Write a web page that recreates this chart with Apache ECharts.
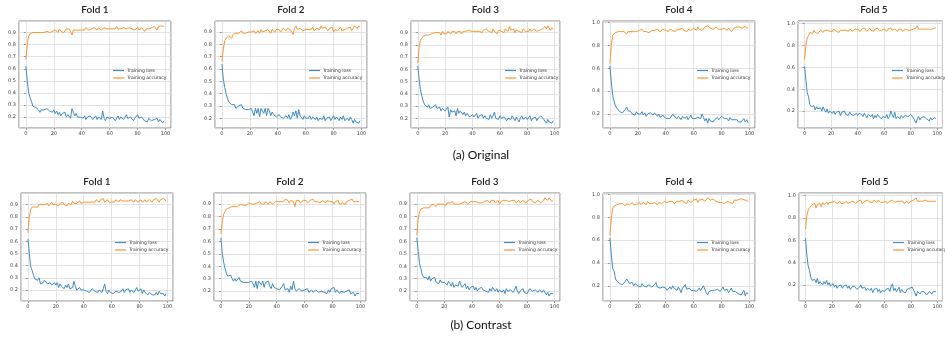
<!DOCTYPE html>
<html>
<head>
<meta charset="utf-8">
<script src="https://cdn.jsdelivr.net/npm/echarts@6/dist/echarts.min.js"></script>
<style>
  html, body { margin: 0; padding: 0; background: #fff; }
  #chart { width: 945px; height: 341px; }
</style>
</head>
<body>
<div id="chart"></div>
<script>
const folds = ['Fold 1', 'Fold 2', 'Fold 3', 'Fold 4', 'Fold 5'];
const captions = ['(a) Original', '(b) Contrast'];
const xTicks = [0, 20, 40, 60, 80, 100];

// (a) Original
const origLoss1 = [.62,.50,.40,.36,.33,.29,.28,.28,.29,.26, .24,.26,.27,.26,.25,.27,.26,.25,.26,.24, .26,.23,.25,.22,.24,.21,.23,.22,.24,.20, .22,.21,.19,.27,.24,.21,.23,.20,.21,.20, .20,.19,.21,.18,.20,.19,.21,.20,.18,.19, .21,.18,.20,.19,.18,.25,.19,.17,.20,.21, .19,.18,.20,.19,.17,.19,.21,.18,.20,.19, .18,.20,.22,.19,.18,.20,.19,.17,.19,.20, .22,.19,.18,.20,.19,.17,.18,.16,.19,.18, .17,.16,.18,.17,.19,.16,.18,.19,.15,.17];
const origAcc1 = [.68,.80,.87,.89,.89,.90,.89,.90,.89,.90, .91,.90,.91,.90,.89,.91,.90,.90,.91,.91, .90,.92,.91,.90,.93,.91,.92,.90,.91,.93, .92,.93,.91,.88,.92,.93,.92,.91,.92,.93, .92,.93,.92,.94,.93,.92,.93,.93,.92,.94, .93,.92,.94,.93,.92,.93,.94,.95,.93,.94, .93,.92,.93,.94,.93,.95,.93,.94,.93,.92, .94,.93,.93,.92,.94,.93,.93,.94,.92,.93, .94,.92,.93,.94,.93,.91,.93,.94,.93,.92, .94,.93,.95,.94,.92,.95,.94,.955,.94,.95];
const origLoss2 = [.64,.52,.45,.40,.36,.33,.32,.31,.30,.31, .28,.27,.30,.29,.31,.28,.28,.27,.28,.27, .26,.28,.27,.22,.28,.24,.28,.21,.28,.26, .24,.28,.22,.28,.26,.22,.25,.23,.24,.21, .22,.23,.21,.22,.20,.21,.22,.20,.23,.19, .21,.25,.22,.26,.20,.27,.22,.21,.19,.22, .20,.21,.20,.22,.19,.21,.20,.19,.21,.18, .20,.21,.19,.22,.18,.20,.19,.21,.18,.20, .22,.19,.21,.20,.18,.21,.19,.22,.18,.19, .20,.18,.21,.19,.16,.19,.17,.18,.16,.18];
const origAcc2 = [.66,.76,.83,.85,.84,.87,.86,.85,.88,.89, .89,.88,.89,.90,.91,.89,.90,.89,.89,.90, .89,.90,.89,.91,.89,.90,.91,.89,.92,.90, .89,.91,.90,.92,.91,.89,.92,.91,.90,.92, .91,.92,.90,.91,.93,.92,.91,.93,.94,.92, .90,.88,.93,.95,.92,.91,.93,.92,.91,.92, .92,.93,.92,.93,.92,.94,.91,.92,.93,.94, .92,.95,.93,.92,.94,.93,.91,.93,.92,.94, .90,.92,.93,.91,.92,.94,.91,.90,.92,.91, .93,.92,.94,.91,.93,.95,.94,.93,.95,.94];
const origLoss3 = [.63,.52,.43,.38,.34,.31,.30,.29,.31,.28, .27,.29,.30,.31,.28,.27,.29,.26,.28,.27, .26,.27,.29,.21,.27,.25,.24,.26,.22,.28, .24,.26,.25,.23,.25,.22,.24,.23,.21,.22, .23,.21,.22,.24,.20,.22,.21,.23,.20,.22, .20,.21,.19,.23,.20,.22,.25,.20,.21,.19, .22,.20,.19,.21,.22,.18,.20,.21,.19,.22, .20,.18,.21,.19,.17,.20,.22,.19,.18,.21, .19,.20,.22,.18,.20,.19,.21,.18,.20,.19, .22,.21,.19,.18,.16,.19,.17,.18,.16,.18];
const origAcc3 = [.65,.78,.84,.85,.87,.86,.88,.89,.88,.89, .89,.88,.90,.89,.90,.89,.90,.88,.91,.89, .90,.89,.91,.90,.89,.91,.90,.91,.89,.91, .90,.91,.89,.91,.92,.91,.90,.92,.91,.91, .91,.91,.90,.91,.92,.91,.91,.90,.92,.91, .93,.92,.91,.92,.90,.93,.91,.92,.89,.92, .93,.91,.92,.90,.93,.92,.91,.95,.92,.91, .93,.90,.92,.93,.91,.92,.90,.93,.92,.91, .92,.91,.93,.91,.92,.93,.92,.91,.90,.92, .91,.93,.92,.95,.93,.955,.94,.92,.94,.93];
const origLoss4 = [.62,.48,.36,.31,.27,.25,.24,.22,.23,.21, .22,.24,.26,.23,.24,.22,.20,.21,.19,.22, .20,.21,.20,.22,.19,.21,.18,.20,.19,.21, .20,.19,.21,.22,.18,.20,.17,.18,.19,.17, .18,.16,.17,.16,.17,.20,.18,.19,.16,.18, .17,.15,.18,.19,.16,.18,.15,.17,.19,.16, .17,.16,.15,.17,.18,.16,.20,.17,.14,.16, .12,.16,.14,.15,.13,.15,.16,.17,.15,.16, .18,.17,.16,.15,.16,.14,.17,.15,.16,.15, .14,.15,.13,.14,.13,.12,.16,.13,.15,.12];
const origAcc4 = [.64,.80,.89,.90,.91,.90,.92,.91,.92,.91, .92,.91,.90,.92,.93,.92,.91,.92,.93,.92, .92,.93,.92,.94,.92,.93,.92,.93,.91,.92, .93,.92,.93,.92,.94,.93,.92,.93,.94,.95, .93,.94,.92,.94,.95,.93,.94,.92,.94,.93, .94,.93,.95,.93,.94,.92,.94,.95,.93,.94, .95,.94,.93,.96,.94,.95,.93,.94,.96,.95, .97,.96,.95,.96,.94,.95,.96,.95,.94,.93, .94,.93,.95,.94,.93,.95,.94,.92,.93,.95, .94,.96,.95,.96,.97,.95,.96,.97,.95,.95];
const origLoss5 = [.61,.48,.37,.33,.26,.24,.23,.25,.21,.24, .22,.21,.23,.20,.24,.21,.19,.22,.18,.20, .19,.18,.20,.17,.19,.18,.20,.16,.19,.18, .20,.17,.18,.16,.19,.17,.18,.16,.17,.18, .16,.18,.19,.17,.15,.18,.16,.14,.17,.16, .15,.17,.13,.16,.14,.17,.15,.16,.13,.15, .16,.14,.17,.13,.15,.20,.17,.14,.19,.13, .15,.14,.13,.16,.14,.15,.16,.17,.15,.16, .17,.16,.14,.15,.09,.13,.15,.12,.14,.13, .15,.14,.13,.12,.11,.14,.12,.13,.14,.13];
const origAcc5 = [.67,.80,.87,.89,.92,.93,.91,.94,.92,.93, .91,.90,.94,.93,.92,.94,.93,.94,.95,.93, .94,.93,.95,.94,.93,.94,.92,.94,.93,.94, .93,.94,.94,.93,.95,.94,.93,.94,.95,.94, .95,.94,.93,.95,.94,.96,.95,.93,.94,.96, .94,.95,.93,.95,.94,.96,.94,.95,.94,.93, .95,.94,.93,.95,.94,.96,.94,.93,.95,.94, .93,.95,.94,.95,.93,.94,.95,.96,.94,.95, .94,.93,.95,.94,.96,.98,.95,.96,.95,.94, .95,.96,.95,.96,.95,.96,.95,.96,.96,.96];

// (b) Contrast
const contLoss1 = [.62,.50,.39,.36,.32,.29,.28,.28,.30,.25, .24,.26,.28,.27,.25,.26,.26,.24,.25,.26, .24,.26,.22,.25,.23,.24,.21,.24,.22,.25, .21,.20,.22,.27,.23,.20,.21,.22,.20,.19, .20,.21,.19,.20,.18,.19,.21,.20,.19,.20, .18,.20,.19,.18,.21,.25,.19,.17,.20,.18, .19,.17,.18,.19,.20,.18,.17,.19,.21,.18, .20,.19,.21,.18,.20,.19,.18,.20,.22,.19, .19,.21,.17,.20,.18,.17,.16,.18,.17,.16, .17,.16,.18,.16,.19,.17,.18,.17,.15,.17];
const contAcc1 = [.67,.80,.86,.88,.89,.88,.89,.88,.90,.89, .90,.89,.90,.90,.91,.89,.90,.92,.90,.91, .90,.91,.89,.91,.90,.92,.90,.91,.89,.91, .92,.90,.93,.91,.92,.91,.92,.93,.91,.92, .92,.93,.92,.91,.92,.93,.92,.93,.92,.94, .93,.92,.94,.93,.95,.92,.93,.94,.92,.91, .92,.93,.92,.94,.93,.92,.94,.95,.93,.92, .93,.94,.93,.92,.94,.93,.92,.94,.93,.92, .93,.94,.92,.93,.94,.92,.93,.94,.93,.92, .94,.93,.95,.94,.92,.94,.93,.95,.955,.93];
const contLoss2 = [.63,.50,.43,.38,.34,.32,.31,.33,.30,.28, .30,.28,.29,.31,.28,.28,.27,.28,.27,.28, .27,.26,.28,.26,.23,.28,.22,.28,.27,.25, .28,.23,.27,.26,.28,.24,.22,.26,.23,.24, .22,.23,.21,.22,.24,.26,.21,.20,.22,.19, .24,.21,.28,.22,.20,.21,.22,.21,.20,.19, .21,.20,.22,.19,.20,.21,.19,.18,.21,.20, .19,.18,.20,.21,.19,.20,.18,.21,.19,.22, .21,.23,.19,.21,.20,.18,.20,.21,.19,.18, .20,.19,.21,.18,.17,.19,.16,.18,.17,.18];
const contAcc2 = [.66,.76,.82,.84,.86,.85,.87,.86,.88,.87, .88,.89,.88,.89,.90,.89,.89,.90,.89,.89, .91,.90,.90,.91,.90,.89,.91,.90,.92,.90, .91,.90,.92,.91,.90,.92,.91,.90,.91,.92, .91,.92,.91,.92,.93,.92,.94,.95,.93,.91, .93,.94,.92,.88,.93,.92,.93,.91,.92,.93, .92,.93,.91,.92,.93,.92,.94,.92,.93,.92, .93,.91,.92,.93,.92,.91,.93,.94,.92,.91, .92,.90,.92,.91,.93,.90,.89,.91,.92,.90, .92,.91,.93,.92,.94,.92,.93,.92,.93,.92];
const contLoss3 = [.63,.52,.42,.38,.33,.31,.30,.31,.29,.32, .28,.30,.29,.31,.27,.28,.26,.29,.27,.26, .27,.26,.25,.28,.26,.24,.27,.23,.25,.26, .24,.28,.25,.23,.24,.26,.22,.24,.21,.23, .22,.24,.21,.23,.20,.22,.21,.23,.21,.22, .20,.21,.19,.22,.20,.23,.24,.20,.22,.19, .21,.20,.19,.21,.18,.22,.20,.19,.21,.20, .19,.21,.24,.20,.18,.20,.19,.22,.19,.20, .18,.20,.22,.23,.20,.19,.21,.20,.19,.21, .20,.19,.21,.19,.17,.19,.16,.18,.17,.18];
const contAcc3 = [.65,.78,.84,.86,.85,.87,.86,.87,.88,.87, .89,.88,.90,.89,.88,.90,.89,.90,.89,.90, .90,.89,.91,.90,.91,.90,.92,.90,.91,.90, .91,.90,.89,.91,.90,.92,.91,.90,.91,.92, .91,.92,.91,.92,.91,.91,.92,.91,.92,.92, .92,.93,.92,.91,.93,.92,.93,.91,.92,.93, .90,.92,.91,.93,.92,.93,.94,.92,.91,.93, .92,.93,.91,.92,.93,.91,.92,.93,.92,.91, .92,.93,.92,.94,.92,.93,.91,.92,.93,.92, .91,.92,.93,.95,.94,.93,.95,.94,.92,.93];
const contLoss4 = [.62,.47,.35,.33,.26,.24,.25,.22,.23,.21, .22,.24,.26,.25,.22,.21,.23,.20,.22,.21, .20,.21,.19,.22,.20,.21,.19,.20,.21,.20, .19,.20,.21,.23,.19,.20,.18,.17,.19,.18, .18,.16,.17,.19,.17,.20,.18,.17,.16,.19, .17,.14,.18,.19,.21,.17,.16,.18,.16,.17, .16,.17,.15,.16,.18,.16,.15,.20,.17,.14, .12,.15,.14,.16,.15,.16,.15,.17,.16,.15, .17,.19,.16,.15,.17,.14,.16,.18,.15,.16, .15,.14,.13,.14,.12,.13,.16,.11,.14,.13];
const contAcc4 = [.64,.79,.88,.90,.89,.91,.90,.92,.91,.92, .91,.90,.92,.93,.91,.92,.93,.91,.92,.91, .92,.93,.91,.92,.93,.92,.91,.94,.92,.93, .92,.91,.93,.92,.91,.93,.94,.92,.93,.94, .95,.93,.92,.94,.93,.94,.92,.93,.94,.95, .94,.93,.95,.93,.94,.92,.95,.94,.93,.94, .95,.94,.96,.93,.95,.94,.96,.97,.94,.95, .97,.96,.95,.94,.96,.95,.94,.95,.93,.94, .93,.94,.92,.93,.94,.95,.93,.94,.92,.95, .94,.95,.94,.96,.95,.96,.97,.95,.94,.94];
const contLoss5 = [.62,.47,.37,.33,.27,.24,.23,.25,.22,.26, .21,.23,.24,.20,.23,.21,.24,.20,.22,.19, .20,.21,.18,.20,.17,.19,.18,.20,.17,.19, .18,.20,.17,.19,.16,.18,.17,.19,.18,.16, .17,.18,.20,.17,.16,.18,.15,.17,.16,.15, .17,.13,.16,.15,.17,.14,.16,.13,.15,.16, .14,.16,.15,.17,.14,.19,.21,.15,.17,.14, .15,.18,.13,.16,.14,.15,.13,.16,.15,.17, .16,.18,.17,.13,.10,.14,.15,.12,.14,.15, .14,.13,.11,.12,.14,.13,.12,.14,.13,.14];
const contAcc5 = [.70,.82,.87,.89,.90,.92,.91,.93,.89,.92, .91,.93,.90,.94,.92,.93,.94,.92,.94,.93, .94,.93,.95,.94,.93,.94,.95,.93,.94,.93, .94,.95,.93,.94,.94,.93,.95,.94,.93,.94, .95,.94,.96,.93,.94,.95,.94,.96,.95,.94, .95,.94,.96,.95,.94,.96,.95,.94,.95,.94, .94,.95,.93,.94,.95,.94,.96,.95,.94,.93, .95,.96,.95,.94,.95,.93,.94,.95,.93,.94, .95,.94,.96,.95,.98,.95,.96,.95,.94,.95, .95,.96,.96,.95,.96,.95,.96,.95,.95,.95];

const lossSets = [origLoss1, origLoss2, origLoss3, origLoss4, origLoss5,
                  contLoss1, contLoss2, contLoss3, contLoss4, contLoss5];
const accSets = [origAcc1, origAcc2, origAcc3, origAcc4, origAcc5,
                 contAcc1, contAcc2, contAcc3, contAcc4, contAcc5];

// panel boxes in px: [left, top, width, height]
const boxes = [
  [19, 21, 152, 107], [215, 21, 152, 107], [411, 21, 149, 107], [603, 21, 152, 107], [798, 21, 152, 107],
  [21, 193, 152, 108], [214, 193, 152, 108], [410, 193, 150, 108], [603, 193, 152, 108], [799, 193, 152, 108],
];
const yStep = [0.1, 0.1, 0.1, 0.2, 0.2];

const BLUE = '#3d8bc9';
const ORANGE = '#ff932e';
const tickFont = { fontSize: 5, color: '#444', fontFamily: 'DejaVu Sans' };

const grid = [], xAxis = [], yAxis = [], series = [], legend = [], title = [];

boxes.forEach(([l, t, w, h], i) => {
  const step = yStep[i % 5];
  grid.push({ left: l, top: t, width: w, height: h, show: true, borderColor: '#666', borderWidth: 0.8 });
  xAxis.push({
    type: 'value', gridIndex: i, min: -4.95, max: 103.95,
    minInterval: 20, maxInterval: 20,
    axisLine: { show: false },
    axisTick: { show: true, length: 2, lineStyle: { color: '#666', width: 0.6 } },
    axisLabel: { ...tickFont, margin: 3, showMinLabel: false, showMaxLabel: false,
      formatter: (v) => (xTicks.includes(v) ? String(v) : '') },
    splitLine: { show: true, lineStyle: { color: '#dcdcdc', width: 0.8 } },
  });
  yAxis.push({
    type: 'value', gridIndex: i,
    min: (v) => v.min - 0.05 * (v.max - v.min),
    max: (v) => v.max + 0.05 * (v.max - v.min),
    minInterval: step, maxInterval: step,
    axisLine: { show: false },
    axisTick: { show: true, length: 2, lineStyle: { color: '#666', width: 0.6 } },
    axisLabel: { ...tickFont, margin: 3, showMinLabel: false, showMaxLabel: false,
      formatter: (v) => v.toFixed(1) },
    splitLine: { show: true, lineStyle: { color: '#dcdcdc', width: 0.8 } },
  });
  series.push({
    name: 'Training loss', type: 'line', xAxisIndex: i, yAxisIndex: i, symbol: 'none',
    lineStyle: { color: BLUE, width: 1 }, itemStyle: { color: BLUE },
    data: lossSets[i].map((v, k) => [k, v]),
  });
  series.push({
    name: 'Training accuracy', type: 'line', xAxisIndex: i, yAxisIndex: i, symbol: 'none',
    lineStyle: { color: ORANGE, width: 1 }, itemStyle: { color: ORANGE },
    data: accSets[i].map((v, k) => [k, v]),
  });
  legend.push({
    data: ['Training loss', 'Training accuracy'], orient: 'vertical', selectedMode: false,
    left: l + 94, top: t + 47, icon: 'rect', itemWidth: 11, itemHeight: 1.2, itemGap: 2.5, padding: 0,
    textStyle: { fontSize: 4.5, color: '#333', fontFamily: 'DejaVu Sans', padding: [0, 0, 0, -2] },
  });
  title.push({
    text: folds[i % 5], left: l + w / 2, top: t - 16, textAlign: 'center', padding: 0,
    textStyle: { fontSize: 10, fontWeight: 600, color: '#222', fontFamily: 'Lato' },
  });
});

title.push({ text: captions[0], left: 481, top: 149, textAlign: 'center', padding: 0,
  textStyle: { fontSize: 12, fontWeight: 'normal', color: '#111', fontFamily: 'Lato' } });
title.push({ text: captions[1], left: 481, top: 319, textAlign: 'center', padding: 0,
  textStyle: { fontSize: 12, fontWeight: 'normal', color: '#111', fontFamily: 'Lato' } });

const chart = echarts.init(document.getElementById('chart'));
chart.setOption({
  animation: false,
  backgroundColor: '#fff',
  title, grid, xAxis, yAxis, series, legend,
});
</script>
</body>
</html>
